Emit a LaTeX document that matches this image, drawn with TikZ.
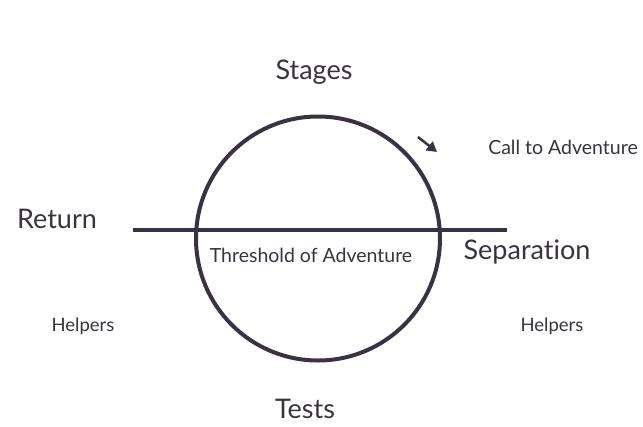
\documentclass[tikz,border=0pt]{standalone}
\usepackage{fontspec}
\setmainfont{Lato}[Ligatures={NoCommon}]
\usetikzlibrary{arrows.meta}
\definecolor{ink}{HTML}{3A3242}
\tikzset{
  big/.style={text=ink, font=\fontsize{27}{32}\selectfont, inner sep=0pt},
  mid/.style={text=ink, font=\fontsize{19.5}{23}\selectfont, inner sep=0pt},
  small/.style={text=ink, font=\fontsize{18.5}{22}\selectfont, inner sep=0pt},
  stroke/.style={draw=ink, line width=4pt}
}
\begin{document}
\begin{tikzpicture}[x=1pt,y=-1pt]
\useasboundingbox (0,0) rectangle (643,426);
\node[draw=none, minimum size=0pt] (ring) at (318,238.5) {};
\draw[stroke] (ring.center) circle (122);
\coordinate (lineL) at (133,230);
\coordinate (lineR) at (507,230);
\draw[stroke, line width=3.5pt] (lineL) -- (lineR);
\coordinate (arrS) at (418,137);
\coordinate (arrE) at (437,152);
\draw[draw=ink, line width=2.5pt, -{Triangle[length=10pt,width=11pt]}] (arrS) -- (arrE);
\node[big] (stages) at (314,72) {Stages};
\node[mid] (call) at (563,147) {Call to Adventure};
\node[big] (return) at (57,219) {Return};
\node[mid] (thresh) at (311,255) {Threshold of Adventure};
\node[big] (sep) at (527,252) {Separation};
\node[small] (helpL) at (83,326) {Helpers};
\node[small] (helpR) at (552,326) {Helpers};
\node[big] (tests) at (305,409) {Tests};
\end{tikzpicture}
\end{document}
